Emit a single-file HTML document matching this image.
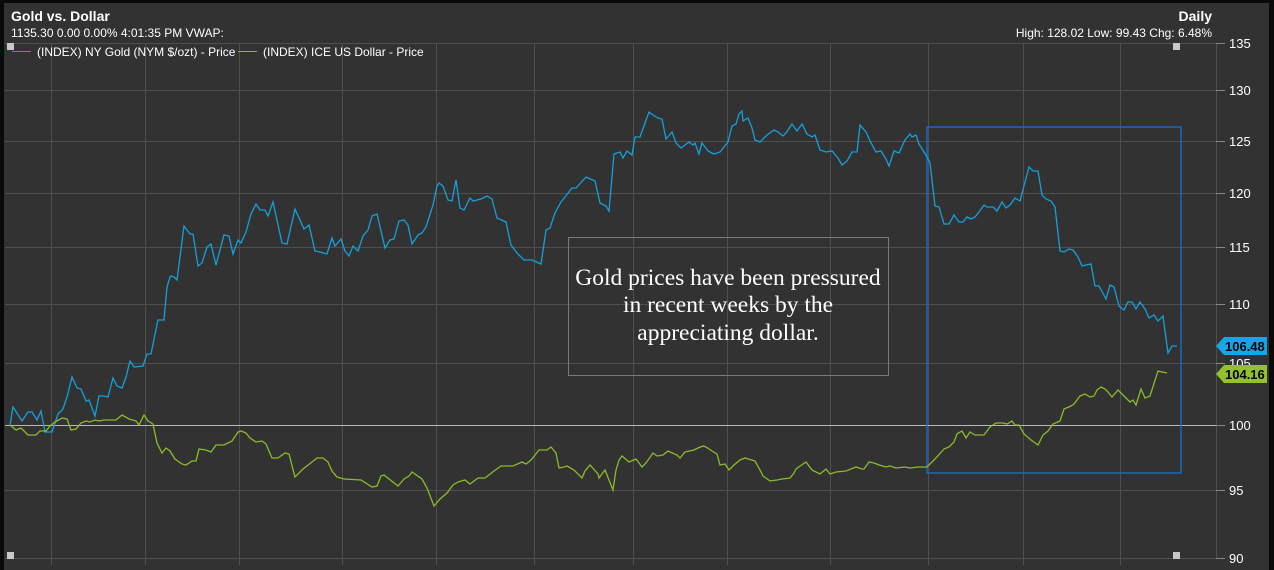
<!DOCTYPE html>
<html><head><meta charset="utf-8"><style>
html,body{margin:0;padding:0;background:#000;}
svg{display:block;font-family:"Liberation Sans",Arial,sans-serif;}
</style></head><body>
<svg width="1274" height="570" viewBox="0 0 1274 570" xmlns="http://www.w3.org/2000/svg">
<rect x="0" y="0" width="1274" height="570" fill="#0a0a0a"/>
<rect x="4" y="3" width="1265" height="567" fill="#323232"/>
<g stroke="#4f4f4f" stroke-width="1">
<line x1="5" y1="43.5" x2="1216" y2="43.5"/>
<line x1="5" y1="90.5" x2="1216" y2="90.5"/>
<line x1="5" y1="141.5" x2="1216" y2="141.5"/>
<line x1="5" y1="193.5" x2="1216" y2="193.5"/>
<line x1="5" y1="247.5" x2="1216" y2="247.5"/>
<line x1="5" y1="304.5" x2="1216" y2="304.5"/>
<line x1="5" y1="363.5" x2="1216" y2="363.5"/>
<line x1="5" y1="490.5" x2="1216" y2="490.5"/>
<line x1="5" y1="558.5" x2="1216" y2="558.5"/>
<line x1="51.5" y1="43" x2="51.5" y2="565"/>
<line x1="145.5" y1="43" x2="145.5" y2="565"/>
<line x1="239.5" y1="43" x2="239.5" y2="565"/>
<line x1="342.5" y1="43" x2="342.5" y2="565"/>
<line x1="436.5" y1="43" x2="436.5" y2="565"/>
<line x1="534.5" y1="43" x2="534.5" y2="565"/>
<line x1="633.5" y1="43" x2="633.5" y2="565"/>
<line x1="727.5" y1="43" x2="727.5" y2="565"/>
<line x1="830.5" y1="43" x2="830.5" y2="565"/>
<line x1="928.5" y1="43" x2="928.5" y2="565"/>
<line x1="1023.5" y1="43" x2="1023.5" y2="565"/>
<line x1="1120.5" y1="43" x2="1120.5" y2="565"/>
<line x1="1216.5" y1="43" x2="1216.5" y2="558"/>
</g>
<line x1="5" y1="425.5" x2="1216" y2="425.5" stroke="#b8b8b8" stroke-width="1"/>
<g stroke="#888" stroke-width="1">
<line x1="1216" y1="43.5" x2="1225" y2="43.5"/><line x1="1216" y1="90.5" x2="1225" y2="90.5"/><line x1="1216" y1="141.5" x2="1225" y2="141.5"/><line x1="1216" y1="193.5" x2="1225" y2="193.5"/><line x1="1216" y1="247.5" x2="1225" y2="247.5"/><line x1="1216" y1="304.5" x2="1225" y2="304.5"/><line x1="1216" y1="363.5" x2="1225" y2="363.5"/><line x1="1216" y1="425.5" x2="1225" y2="425.5"/><line x1="1216" y1="490.5" x2="1225" y2="490.5"/><line x1="1216" y1="558.5" x2="1225" y2="558.5"/>
</g>
<g fill="#fff" font-size="13">
<text x="1229" y="48">135</text><text x="1229" y="95">130</text><text x="1229" y="146">125</text><text x="1229" y="198">120</text><text x="1229" y="252">115</text><text x="1229" y="309">110</text><text x="1229" y="368">105</text><text x="1229" y="430">100</text><text x="1229" y="495">95</text><text x="1229" y="563">90</text>
</g>
<rect x="568.5" y="237.5" width="320" height="138" fill="none" stroke="#7a7a7a" stroke-width="1"/>
<g fill="#fff" font-family="Liberation Serif,serif" font-size="23.5" text-anchor="middle">
<text x="728" y="285">Gold prices have been pressured</text>
<text x="728" y="312">in recent weeks by the</text>
<text x="728" y="340">appreciating dollar.</text>
</g>
<rect x="927" y="127" width="254" height="346" fill="none" stroke="#1670d8" stroke-width="1.3"/>
<polyline fill="none" stroke="#14a0dc" stroke-width="1.3" points="10,425 13,407 22,421 28,412 32,412 37,420 41,411 45,432 52,432 58,414 63,409 67,397 72,377 77,388 81,389 86,401 89,400 95,416 99,396 104,396 108,397 113,378 117,386 122,388 126,377 130,361 134,367 143,366 147,354 151,354 158,320 164,320 167,287 170,277 171,276 174,277 177,280 184,226 190,234 193,234 198,266 202,263 207,247 211,244 216,265 224,235 229,236 233,254 238,240 241,243 246,232 251,214 256,204 260,210 265,210 268,216 273,202 282,243 287,244 295,209 304,229 309,225 315,251 320,252 327,254 332,238 335,246 341,239 345,251 349,256 353,246 358,251 363,236 368,230 372,216 377,214 385,248 390,240 394,239 399,221 404,220 408,225 412,244 418,235 422,233 426,227 433,205 437,186 439,183 443,186 448,200 452,201 456,180 460,208 464,210 470,198 473,201 481,199 487,196 492,199 497,218 506,222 511,245 517,253 524,260 532,260 541,264 546,230 550,228 555,213 561,202 565,197 572,188 576,188 586,177 595,181 600,203 606,206 609,211 614,154 620,152 623,158 627,151 632,155 635,137 640,137 645,123 649,112 653,115 658,118 662,119 666,139 672,132 676,143 681,148 689,142 693,145 695,143 699,154 702,143 708,151 714,154 720,152 724,147 728,142 732,126 736,124 739,114 742,111 743,121 748,118 752,128 755,140 760,142 767,135 774,130 778,132 783,136 786,133 792,124 797,131 802,124 807,134 812,137 815,135 820,150 826,152 832,151 838,158 842,165 847,161 852,152 857,152 860,125 866,132 871,143 876,152 881,151 886,159 889,166 894,151 899,153 905,140 910,134 912,137 916,135 919,144 924,152 927,157 930,163 935,206 939,207 944,224 949,224 954,215 959,222 963,222 967,217 971,219 975,217 979,212 984,205 987,207 993,207 997,211 1002,202 1006,208 1010,205 1015,198 1020,201 1029,167 1033,171 1038,171 1042,195 1046,199 1051,201 1055,207 1060,251 1064,252 1069,249 1073,250 1078,257 1082,266 1086,265 1091,264 1095,286 1099,286 1106,299 1110,285 1114,287 1119,306 1124,310 1128,302 1132,302 1136,309 1140,302 1145,309 1149,318 1154,315 1158,321 1163,316 1168,353 1172,346 1177,346"/>
<polyline fill="none" stroke="#8fb82a" stroke-width="1.3" points="10,425 16,430 21,428 28,435 36,435 40,431 46,431 50,426 55,422 62,418 67,419 71,430 76,429 81,423 86,421 90,422 95,420 99,421 104,420 116,420 122,415 129,419 136,421 139,425 144,415 148,421 153,424 157,443 162,453 166,448 170,451 175,459 182,464 186,465 192,461 196,461 199,449 206,450 211,452 216,445 224,445 232,441 238,432 241,431 246,433 250,438 256,442 262,441 266,444 272,458 278,458 285,453 289,454 295,477 303,469 312,462 317,458 323,458 328,462 332,471 337,477 344,479 361,480 372,487 377,486 381,476 384,475 398,486 404,479 409,476 412,472 422,479 427,488 434,506 440,499 447,493 453,485 458,482 465,480 470,484 478,478 485,478 494,471 501,466 513,466 522,462 526,464 531,460 539,450 547,450 551,447 556,453 559,468 564,467 567,466 574,470 582,478 585,471 590,465 598,474 599,478 605,470 613,490 616,470 619,460 622,456 629,462 636,459 642,467 646,463 653,453 657,456 663,455 668,451 677,455 680,458 685,452 694,450 698,448 703,446 706,447 712,451 717,454 720,465 725,464 729,470 734,465 740,460 745,458 755,461 760,470 763,476 770,481 777,480 782,479 790,478 794,473 796,469 803,464 806,462 812,470 820,474 826,469 830,474 836,472 846,471 856,467 862,469 864,469 869,462 874,463 879,465 886,467 890,466 896,468 905,467 910,468 918,467 927,467 935,459 944,449 949,447 954,442 957,434 962,431 966,438 970,432 975,435 984,435 990,427 996,423 1003,423 1007,424 1012,421 1015,425 1019,425 1024,434 1031,440 1038,445 1043,435 1048,431 1053,424 1060,421 1064,409 1071,406 1074,404 1080,396 1085,394 1090,397 1094,396 1097,390 1101,387 1105,389 1108,392 1112,397 1118,390 1124,396 1130,402 1133,400 1136,405 1141,389 1145,398 1150,396 1158,371 1162,372 1167,373"/>
<rect x="7" y="43" width="7" height="7" fill="#c8c8c8"/>
<rect x="1173" y="43" width="7" height="7" fill="#c8c8c8"/>
<rect x="7" y="552" width="7" height="7" fill="#c8c8c8"/>
<rect x="1173" y="552" width="7" height="7" fill="#c8c8c8"/>
<polygon points="1216,346 1224,337 1267,337 1267,355 1224,355" fill="#14a7e8"/>
<text x="1225" y="351" font-size="13" font-weight="bold" fill="#000">106.48</text>
<polygon points="1216,374 1224,365 1267,365 1267,383 1224,383" fill="#93c12e"/>
<text x="1225" y="379" font-size="13" font-weight="bold" fill="#000">104.16</text>
<text x="11" y="21" font-size="14" font-weight="bold" fill="#fff">Gold vs. Dollar</text>
<text x="11" y="37" font-size="12" fill="#fff">1135.30 0.00 0.00% 4:01:35 PM VWAP:</text>
<line x1="12" y1="51.5" x2="31" y2="51.5" stroke="#14a0dc" stroke-width="1"/>
<text x="37" y="56" font-size="12" fill="#fff">(INDEX) NY Gold (NYM $/ozt) - Price</text>
<line x1="238" y1="51.5" x2="257" y2="51.5" stroke="#8fb82a" stroke-width="1"/>
<text x="263" y="56" font-size="12" fill="#fff">(INDEX) ICE US Dollar - Price</text>
<text x="1212" y="21" font-size="14" font-weight="bold" fill="#fff" text-anchor="end">Daily</text>
<text x="1212" y="37" font-size="12" fill="#fff" text-anchor="end">High: 128.02 Low: 99.43 Chg: 6.48%</text>
</svg>
</body></html>
